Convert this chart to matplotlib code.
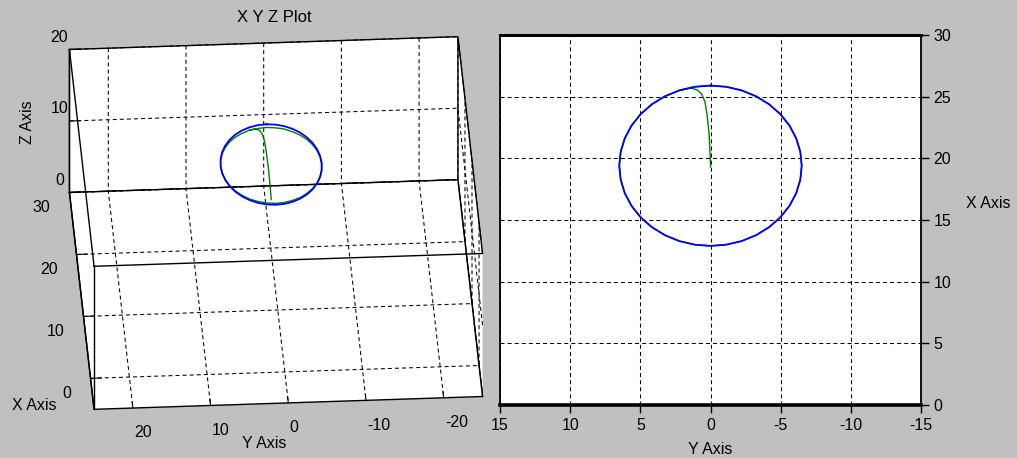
import numpy as np
import matplotlib
matplotlib.use("Agg")
import matplotlib.pyplot as plt
from mpl_toolkits.mplot3d import proj3d

plt.rcParams['font.family'] = ['Liberation Sans', 'DejaVu Sans']
plt.rcParams['axes.unicode_minus'] = False
plt.rcParams['lines.scale_dashes'] = False
plt.rcParams['lines.dashed_pattern'] = [2.9, 2.2]
plt.rcParams['grid.linestyle'] = '--'
plt.rcParams['grid.color'] = 'black'
plt.rcParams['grid.linewidth'] = 0.75

# ---------------- data ----------------
# blue reference circle, points every 10 degrees
blue_y = [0.0, 1.13, 2.22, 3.25, 4.18, 4.98, 5.63, 6.11, 6.40, 6.5,
          6.40, 6.11, 5.63, 4.98, 4.18, 3.25, 2.22, 1.13, 0.0,
          -1.13, -2.22, -3.25, -4.18, -4.98, -5.63, -6.11, -6.40, -6.5,
          -6.40, -6.11, -5.63, -4.98, -4.18, -3.25, -2.22, -1.13, 0.0]
blue_x = [25.9, 25.8, 25.51, 25.03, 24.38, 23.58, 22.65, 21.62, 20.53, 19.4,
          18.27, 17.18, 16.15, 15.22, 14.42, 13.77, 13.29, 13.0, 12.9,
          13.0, 13.29, 13.77, 14.42, 15.22, 16.15, 17.18, 18.27, 19.4,
          20.53, 21.62, 22.65, 23.58, 24.38, 25.03, 25.51, 25.8, 25.9]
blue_z_level = 12.2

# green trajectory: rises from the centre, then runs round the circle
green_y = [0.0, 0.02, 0.1, 0.25, 0.4, 0.65, 0.95, 1.4,
           2.22, 3.25, 4.18, 4.98, 5.63, 6.11, 6.40, 6.5,
           6.40, 6.11, 5.63, 4.98, 4.18, 3.25, 2.22, 1.13, 0.0,
           -1.13, -2.22, -3.25, -4.18, -4.98, -5.63, -6.11, -6.40, -6.5,
           -6.40, -6.11, -5.63, -4.98, -4.18, -3.25, -2.22, -1.13, 0.0,
           1.13, 2.22]
green_x = [19.3, 20.1, 22.0, 23.6, 24.6, 25.25, 25.55, 25.7,
           25.51, 25.03, 24.38, 23.58, 22.65, 21.62, 20.53, 19.4,
           18.27, 17.18, 16.15, 15.22, 14.42, 13.77, 13.29, 13.0, 12.9,
           13.0, 13.29, 13.77, 14.42, 15.22, 16.15, 17.18, 18.27, 19.4,
           20.53, 21.62, 22.65, 23.58, 24.38, 25.03, 25.51, 25.8, 25.9,
           25.8, 25.51]
green_z = [7.4, 7.95, 9.3, 10.35, 11.05, 11.5, 11.7, 11.75,
           11.8, 11.8, 11.85, 11.9, 11.95, 12.0, 12.05, 12.1,
           12.15, 12.2, 12.25, 12.3, 12.35, 12.35, 12.4, 12.4, 12.4,
           12.4, 12.4, 12.35, 12.35, 12.3, 12.25, 12.2, 12.15, 12.1,
           12.05, 12.0, 11.95, 11.9, 11.85, 11.8, 11.8, 11.75, 11.75,
           11.75, 11.8]

x3_lim = (-5, 30)
y3_lim = (-25, 25)
z3_lim = (0, 20)
x3_ticks = [0, 10, 20, 30]
y3_ticks = [-20, -10, 0, 10, 20]
z3_ticks = [0, 10, 20]

y2_ticks = [15, 10, 5, 0, -5, -10, -15]
x2_ticks = [0, 5, 10, 15, 20, 25, 30]

BLUE = '#0000ff'
GREEN = '#008000'
BG = '#c0c0c0'
FS = 11.5

W, H = 1017, 458
fig = plt.figure(figsize=(W / 100, H / 100), dpi=100, facecolor=BG)

# ---------------- 3D panel ----------------
S = 440
cx, cy = 276, 235  # target box centre, display px (origin bottom-left)
ax3 = fig.add_axes([(cx - S / 2) / W, (cy - S / 2) / H, S / W, S / H],
                   projection='3d', proj_type='ortho')
ax3.set_facecolor((0, 0, 0, 0))
ax3.view_init(elev=32.6, azim=176.5, roll=0)
ax3.set_xlim(*x3_lim)
ax3.set_ylim(*y3_lim)
ax3.set_zlim(*z3_lim)
aspect = (406, 392, 171)
ax3.set_box_aspect(aspect)
ax3.set_xticks(x3_ticks)
ax3.set_yticks(y3_ticks)
ax3.set_zticks(z3_ticks)
ax3.zaxis.set_ticks_position('upper')
for axis in (ax3.xaxis, ax3.yaxis, ax3.zaxis):
    axis.set_pane_color((1, 1, 1, 1))
    axis.pane.set_edgecolor('black')
    axis.pane.set_linewidth(1.0)
    axis.line.set_color('black')
    axis.line.set_linewidth(1.0)
    axis._axinfo['tick']['inward_factor'] = 0.0
    axis._axinfo['tick']['outward_factor'] = 0.35
    axis._axinfo['grid']['color'] = 'black'
    axis._axinfo['grid']['linewidth'] = 0.75
    axis._axinfo['grid']['linestyle'] = '--'
ax3.tick_params(labelsize=FS, colors='black', pad=0)
ax3.zaxis.set_tick_params(pad=-4)
ax3.grid(True)
ax3.set_xlabel('')
ax3.set_ylabel('')
ax3.set_zlabel('')

ax3.plot(green_x, green_y, green_z, color=GREEN, lw=1.0)
ax3.plot(blue_x, blue_y, [blue_z_level] * len(blue_x), color=BLUE, lw=1.3)

# front edges of the box (the panes draw the back ones)
x0, x1 = x3_lim
y0, y1 = y3_lim
z0, z1 = z3_lim
ax3.plot([x0, x0], [y0, y1], [z1, z1], color='black', lw=1.0)
ax3.plot([x0, x1], [y1, y1], [z1, z1], color='black', lw=1.0)
ax3.plot([x0, x0], [y1, y1], [z0, z1], color='black', lw=1.0)


def box_extent():
    fig.canvas.draw()
    cs = np.array([[a, b, c] for a in x3_lim for b in y3_lim for c in z3_lim]).T
    px, py, _ = proj3d.proj_transform(cs[0], cs[1], cs[2], ax3.M)
    d = ax3.transData.transform(np.column_stack([px, py]))
    return d[:, 0].min(), d[:, 0].max(), d[:, 1].min(), d[:, 1].max()


xa, xb, ya, yb = box_extent()
scale = 0.5 * (416 / (xb - xa) + 370 / (yb - ya))
ax3.set_box_aspect(aspect, zoom=scale)
xa, xb, ya, yb = box_extent()
dx = cx - 0.5 * (xa + xb)
dy = cy - 0.5 * (ya + yb)
pos = ax3.get_position(original=True)
ax3.set_position([pos.x0 + dx / W, pos.y0 + dy / H, pos.width, pos.height])

for lbl in ax3.xaxis.get_majorticklabels():
    lbl.set_ha('right')
for lbl in ax3.yaxis.get_majorticklabels():
    lbl.set_ha('left')
for lbl in ax3.zaxis.get_majorticklabels():
    lbl.set_ha('center')
    lbl.set_va('bottom')

fig.text(274 / W, 1 - 18 / H, 'X Y Z Plot', ha='center', va='center', fontsize=12)
fig.text(27 / W, 1 - 122 / H, 'Z Axis', ha='center', va='center', rotation=90, fontsize=FS)
fig.text(12 / W, 1 - 406 / H, 'X Axis', ha='left', va='center', fontsize=FS)
fig.text(264 / W, 1 - 444 / H, 'Y Axis', ha='center', va='center', fontsize=FS)

# ---------------- 2D panel ----------------
ax2 = fig.add_axes([500 / W, 53 / H, 421 / W, 370 / H])
ax2.set_facecolor('white')
ax2.plot(green_y, green_x, color=GREEN, lw=1.0)
ax2.plot(blue_y, blue_x, color=BLUE, lw=1.3)
ax2.set_xlim(15, -15)
ax2.set_ylim(0, 30)
ax2.set_xticks(y2_ticks)
ax2.set_yticks(x2_ticks)
ax2.grid(True, color='black', linestyle='--', linewidth=0.75)
ax2.yaxis.tick_right()
ax2.tick_params(direction='out', length=6, width=1, labelsize=FS,
                colors='black', pad=3)
ax2.spines['top'].set_linewidth(2.2)
ax2.spines['bottom'].set_linewidth(2.6)
ax2.spines['left'].set_linewidth(1.3)
ax2.spines['right'].set_linewidth(1.3)
ax2.set_xlabel('Y Axis', fontsize=FS, va='center')
ax2.xaxis.set_label_coords(0.5, (405 - 449) / 370)
ax2.set_ylabel('X Axis', fontsize=FS, rotation=0, ha='center', va='center')
ax2.yaxis.set_label_position('right')
ax2.yaxis.set_label_coords((988 - 500) / 421, (405 - 196) / 370)

fig.savefig('out.png', dpi=100, facecolor=BG)
